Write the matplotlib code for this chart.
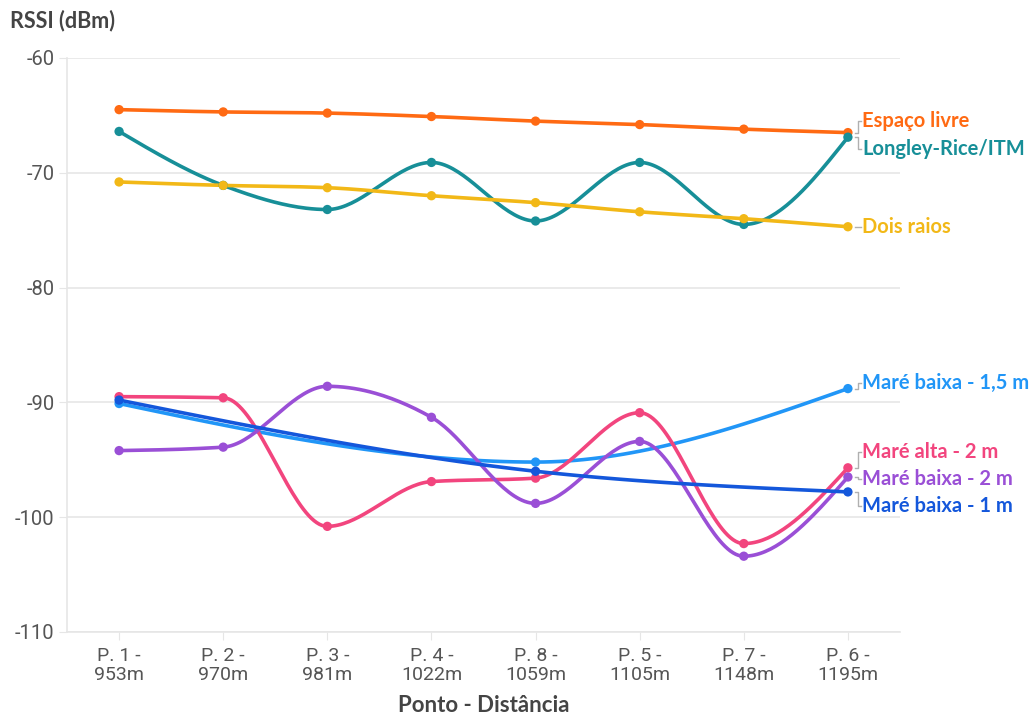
import numpy as np
import matplotlib.pyplot as plt

# categories (x axis)
pontos = ["P. 1 -\n953m", "P. 2 -\n970m", "P. 3 -\n981m", "P. 4 -\n1022m",
          "P. 8 -\n1059m", "P. 5 -\n1105m", "P. 7 -\n1148m", "P. 6 -\n1195m"]

# RSSI values (dBm), None = no measurement
espaco_livre = [-64.5, -64.7, -64.8, -65.1, -65.5, -65.8, -66.2, -66.5]
longley_rice = [-66.4, -71.1, -73.2, -69.1, -74.2, -69.1, -74.5, -66.9]
dois_raios = [-70.8, -71.1, -71.3, -72.0, -72.6, -73.4, -74.0, -74.7]
mare_baixa_15 = [-90.1, None, None, None, -95.2, None, None, -88.8]
mare_alta_2 = [-89.5, -89.6, -100.8, -96.9, -96.6, -90.9, -102.3, -95.7]
mare_baixa_2 = [-94.2, -93.9, -88.6, -91.3, -98.8, -93.4, -103.4, -96.5]
mare_baixa_1 = [-89.8, None, None, None, -96.0, None, None, -97.8]

series = [
    ("Espaço livre", espaco_livre, "#ff6a13", -65.5),
    ("Longley-Rice/ITM", longley_rice, "#178f98", -67.9),
    ("Dois raios", dois_raios, "#f2b817", -74.7),
    ("Maré baixa - 1,5 m", mare_baixa_15, "#2196f7", -88.3),
    ("Maré alta - 2 m", mare_alta_2, "#f2457e", -94.3),
    ("Maré baixa - 2 m", mare_baixa_2, "#9a4fd6", -96.7),
    ("Maré baixa - 1 m", mare_baixa_1, "#1457db", -99.0),
]


def monotone(x, y, n=40):
    """Monotone cubic (d3 curveMonotoneX style) through the points."""
    x = np.asarray(x, float)
    y = np.asarray(y, float)
    h = np.diff(x)
    s = np.diff(y) / h
    m = np.zeros(len(x))
    for i in range(1, len(x) - 1):
        p = (s[i - 1] * h[i] + s[i] * h[i - 1]) / (h[i - 1] + h[i])
        m[i] = (np.sign(s[i - 1]) + np.sign(s[i])) * min(abs(s[i - 1]), abs(s[i]), 0.5 * abs(p))
    m[0] = (3 * s[0] - m[1]) / 2 if len(x) > 2 else s[0]
    m[-1] = (3 * s[-1] - m[-2]) / 2 if len(x) > 2 else s[-1]
    xs, ys = [], []
    for i in range(len(x) - 1):
        t = np.linspace(0, 1, n)
        h00 = 2 * t**3 - 3 * t**2 + 1
        h10 = t**3 - 2 * t**2 + t
        h01 = -2 * t**3 + 3 * t**2
        h11 = t**3 - t**2
        xs.append(x[i] + t * h[i])
        ys.append(h00 * y[i] + h10 * h[i] * m[i] + h01 * y[i + 1] + h11 * h[i] * m[i + 1])
    return np.concatenate(xs), np.concatenate(ys)


plt.rcParams['font.family'] = ['Roboto', 'DejaVu Sans']
plt.rcParams['axes.unicode_minus'] = False
fig = plt.figure(figsize=(10.36, 7.22), dpi=100)
ax = fig.add_axes([0.0647, 0.1247, 0.8040, 0.7950])

grid_c = "#e6e6e6"
for yv in range(-110, -55, 10):
    ax.axhline(yv, color=grid_c, lw=1.2, zorder=0)

for name, vals, color, label_y in series:
    xi = [i for i, v in enumerate(vals) if v is not None]
    yi = [v for v in vals if v is not None]
    sx, sy = monotone(xi, yi)
    ax.plot(sx, sy, color=color, lw=2.6, solid_capstyle='round', zorder=3)
    ax.scatter(xi, yi, s=45, color=color, zorder=4, edgecolors='none')
    # label at the right end with a small connector
    last = yi[-1]
    ax.plot([7.07, 7.1, 7.1, 7.13], [last, last, label_y, label_y],
            color="#b0b0b0", lw=1, clip_on=False, zorder=2)
    ax.text(7.14, label_y, name, color=color, fontsize=14.5, fontweight='bold',
            va='center', ha='left', family=['Lato', 'DejaVu Sans'])

ax.set_xlim(-0.5, 7.5)
ax.set_ylim(-110, -60)
ax.set_yticks(range(-110, -55, 10))
ax.set_xticks(range(len(pontos)))
ax.set_xticklabels(pontos, fontsize=14, color="#555555", linespacing=1.05)
ax.tick_params(axis='y', length=6, color=grid_c, labelsize=14.5, labelcolor="#555555", pad=3)
ax.tick_params(axis='x', length=6, color=grid_c, pad=5)

for sp in ['top', 'right']:
    ax.spines[sp].set_visible(False)
ax.spines['left'].set_color(grid_c)
ax.spines['bottom'].set_color(grid_c)
ax.spines['left'].set_linewidth(1.2)
ax.spines['bottom'].set_linewidth(1.2)

fig.text(0.0097, 0.972, "RSSI (dBm)", fontsize=15.5, fontweight='bold', color="#444444",
         va='center', ha='left', family=['Lato', 'DejaVu Sans'])
fig.text(0.4667, 0.008, "Ponto - Distância", fontsize=16, fontweight='bold', color="#444444",
         va='bottom', ha='center', family=['Lato', 'DejaVu Sans'])

fig.savefig("out.png", dpi=100)
